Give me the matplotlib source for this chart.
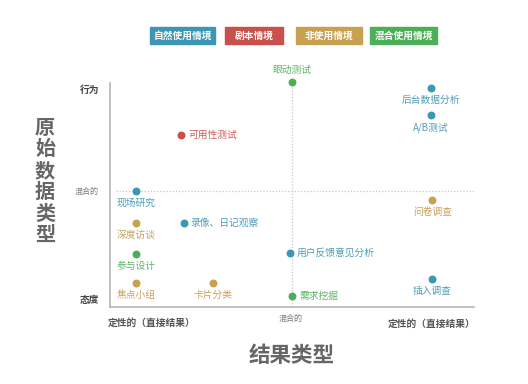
import matplotlib
matplotlib.use("Agg")
import matplotlib.pyplot as plt

plt.rcParams["font.family"] = ["Noto Sans CJK SC", "DejaVu Sans"]

# categories (context type) -> colours
categories = ["自然使用情境", "剧本情境", "非使用情境", "混合使用情境"]
cat_colors = ["#3b97b3", "#c9504b", "#c9a04f", "#4caf55"]
text_colors = ["#4f9db6", "#c85a55", "#c6a260", "#5db467"]

# methods: name, x (结果类型), y (原始数据类型), category index, label position
names = ["眼动测试", "可用性测试", "后台数据分析", "A/B测试", "现场研究", "问卷调查",
         "深度访谈", "录像、日记观察", "用户反馈意见分析", "参与设计", "焦点小组",
         "卡片分类", "需求挖掘", "插入调查"]
xs = [50, 19.5, 88.2, 88.2, 7.1, 88.5, 7.1, 20.3, 49.5, 7.1, 7.1, 28.3, 50, 88.5]
ys = [100.4, 76.8, 97.8, 85.7, 51.8, 47.8, 37.5, 37.5, 24.1, 23.7, 10.7, 10.7, 4.9, 12.5]
cats = [3, 1, 0, 0, 0, 2, 2, 0, 0, 3, 2, 2, 3, 0]
label_pos = ["above", "right", "below", "below", "below", "below", "below", "right",
             "right", "below", "below", "below", "right", "below"]

y_ticks = [97, 51.8, 3]
y_ticklabels = ["行为", "混合的", "态度"]
x_ticklabels = ["定性的（直接结果）", "混合的", "定性的（直接结果）"]

fig = plt.figure(figsize=(5.28, 3.84), dpi=100)
ax = fig.add_axes([110 / 528, 1 - 307 / 384, 364 / 528, 224 / 384])
ax.set_xlim(0, 100)
ax.set_ylim(0, 100)
for s in ["top", "right"]:
    ax.spines[s].set_visible(False)
for s in ["left", "bottom"]:
    ax.spines[s].set_color("#b5b5b5")
    ax.spines[s].set_linewidth(1.2)
ax.set_xticks([])
ax.set_yticks([])

# dotted mid lines
ax.plot([1.6, 100], [51.8, 51.8], ls=(0, (1, 1.5)), color="#c8c8c8", lw=0.9, clip_on=False)
ax.plot([50, 50], [0, 100.4], ls=(0, (1, 1.5)), color="#c8c8c8", lw=0.9, clip_on=False)

for n, x, y, c, p in zip(names, xs, ys, cats, label_pos):
    ax.scatter(x, y, s=22, color=cat_colors[c], zorder=3, clip_on=False)
    tc = text_colors[c]
    if p == "right":
        off, ha, va = (5, 0), "left", "center"
    elif p == "below":
        off, ha, va = (0, -5), "center", "top"
    else:
        off, ha, va = (0, 5), "center", "bottom"
    ax.annotate(n, (x, y), xytext=off, textcoords="offset points", ha=ha, va=va,
                fontsize=7, color=tc, annotation_clip=False)

# y axis level labels
for yt, lab in zip(y_ticks, y_ticklabels):
    mid = lab == "混合的"
    ax.annotate(lab, (0, yt), xytext=(-8, 0), textcoords="offset points",
                ha="right", va="center", fontsize=5.8 if mid else 7,
                color="#777777" if mid else "#444444",
                fontweight="normal" if mid else "bold", annotation_clip=False)

# x axis level labels
fig.text(152 / 528, 1 - 323 / 384, x_ticklabels[0], ha="center", va="center",
         fontsize=7, color="#555555", fontweight="bold")
fig.text(291 / 528, 1 - 318 / 384, x_ticklabels[1], ha="center", va="center",
         fontsize=5.8, color="#777777")
fig.text(432 / 528, 1 - 324 / 384, x_ticklabels[2], ha="center", va="center",
         fontsize=7, color="#555555", fontweight="bold")

# axis titles
fig.text(292 / 528, 1 - 355 / 384, "结果类型", ha="center", va="center",
         fontsize=15.5, color="#666666", fontweight="bold")
fig.text(45 / 528, 1 - 181 / 384, "\n".join("原始数据类型"), ha="center", va="center",
         fontsize=14.5, color="#666666", fontweight="bold", linespacing=1.02)

# legend boxes
box_x = [150, 225, 296, 370]
box_w = [65, 58, 66, 67]
for bx, bw, lab, col in zip(box_x, box_w, categories, cat_colors):
    fig.patches.append(plt.Rectangle((bx / 528, 1 - 44 / 384), bw / 528, 17 / 384,
                                     transform=fig.transFigure, color=col, zorder=1))
    fig.text((bx + bw / 2) / 528, 1 - 35.5 / 384, lab, ha="center", va="center",
             fontsize=7, color="white", fontweight="bold", zorder=2)

fig.savefig("out.png", dpi=100)
